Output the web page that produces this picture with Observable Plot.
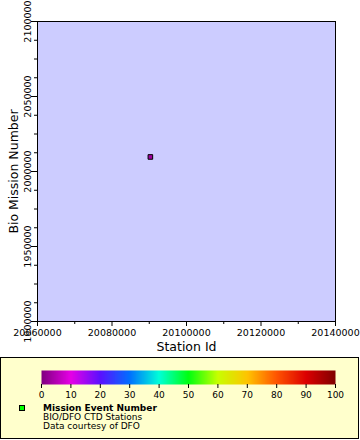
<!DOCTYPE html>
<html>
<head>
<meta charset="utf-8">
<script src="https://cdn.jsdelivr.net/npm/d3@7"></script>
<script src="https://cdn.jsdelivr.net/npm/@observablehq/plot@0.6"></script>
<style>
  html, body { margin: 0; padding: 0; background: #fff; }
  #wrap { position: relative; width: 360px; height: 440px; overflow: hidden; font-family: "DejaVu Sans", sans-serif; }
  #main { position: absolute; left: 0; top: 0; }
  #legendBox { position: absolute; left: 0; top: 357px; width: 357px; height: 80px; border: 1px solid #000; background: #ffffcc; }
  #cbar { position: absolute; left: 0; top: 357px; }
  .ltxt { position: absolute; left: 43px; font-size: 9px; line-height: 9px; white-space: nowrap; color: #000; }
  #marker { position: absolute; left: 19px; top: 405px; width: 4px; height: 4px; background: #00ff00; border: 1px solid #000; }
</style>
</head>
<body>
<div id="wrap">
  <div id="main"></div>
  <div id="legendBox"></div>
  <div id="cbar"></div>
  <div id="marker"></div>
  <div class="ltxt" style="top:404px;font-weight:bold">Mission Event Number</div>
  <div class="ltxt" style="top:413px">BIO/DFO CTD Stations</div>
  <div class="ltxt" style="top:422px">Data courtesy of DFO</div>
</div>
<script>
// ---- data ----
const stationIds = [20090300];
const missionNumbers = [2009700];
const eventNumbers = [3];

const xDomain = [20060000, 20140000];
const yDomain = [1900000, 2100000];
const xMajorTicks = [20060000, 20080000, 20100000, 20120000, 20140000];
const xMinorTicks = [20070000, 20090000, 20110000, 20130000];
const yMajorTicks = [1900000, 1950000, 2000000, 2050000, 2100000];
const yMinorTicks = [1912500, 1925000, 1937500, 1962500, 1975000, 1987500,
                     2012500, 2025000, 2037500, 2062500, 2075000, 2087500];

const colorStops = [0, 10, 20, 30, 40, 50, 60, 70, 80, 90, 100];
const colorRange = ["#800080", "#e600e6", "#5a10ff", "#0070ff", "#00ffd8", "#00ff10",
                    "#c8ff00", "#ffc400", "#ff5400", "#dc0000", "#800000"];
const colorTicks = [0, 10, 20, 30, 40, 50, 60, 70, 80, 90, 100];

const points = stationIds.map((s, i) => ({station: s, mission: missionNumbers[i], event: eventNumbers[i]}));

const colorScale = {type: "linear", domain: colorStops, range: colorRange, interpolate: "rgb"};

const main = Plot.plot({
  width: 360,
  height: 357,
  marginLeft: 37,
  marginRight: 25,
  marginTop: 21,
  marginBottom: 36,
  style: {fontFamily: "DejaVu Sans", fontSize: "9.5px", background: "transparent", overflow: "visible", color: "#000"},
  x: {domain: xDomain},
  y: {domain: yDomain},
  color: colorScale,
  marks: [
    Plot.frame({fill: "#ccccff", stroke: "#000", strokeWidth: 1}),
    Plot.axisX({ticks: xMajorTicks, tickSize: 5, tickPadding: 3, tickFormat: d => String(d), label: null, stroke: "#000"}),
    Plot.axisX({ticks: xMinorTicks, tickSize: 3, text: null, label: null, stroke: "#000"}),
    Plot.axisY({ticks: yMajorTicks, tickSize: 6, text: null, label: null, stroke: "#000"}),
    Plot.axisY({ticks: yMinorTicks, tickSize: 3, text: null, label: null, stroke: "#000"}),
    Plot.text(yMajorTicks, {y: d => d, frameAnchor: "left", dx: -9.5, rotate: -90, text: d => String(d),
      textAnchor: "middle", lineAnchor: "middle", fill: "#000"}),
    Plot.text(["Station Id"], {frameAnchor: "bottom", dy: 25, text: d => d, fontSize: 12.5,
      textAnchor: "middle", lineAnchor: "middle", fill: "#000"}),
    Plot.text(["Bio Mission Number"], {frameAnchor: "left", dx: -24, rotate: -90, text: d => d, fontSize: 12.5,
      textAnchor: "middle", lineAnchor: "middle", fill: "#000"}),
    Plot.dot(points, {x: "station", y: "mission", fill: "event", symbol: "square", r: 2.6,
      stroke: "#000", strokeWidth: 1})
  ]
});
document.getElementById("main").appendChild(main);

const cbar = Plot.plot({
  width: 360,
  height: 43,
  marginLeft: 41,
  marginRight: 25,
  marginTop: 13,
  marginBottom: 16,
  style: {fontFamily: "DejaVu Sans", fontSize: "9px", background: "transparent", overflow: "visible", color: "#000"},
  x: {domain: [0, 100]},
  y: {domain: [0, 1], axis: null},
  color: colorScale,
  marks: [
    Plot.raster({fill: (x, y) => x, x1: 0, x2: 100, y1: 0, y2: 1, width: 300, height: 1, imageRendering: "auto"}),
    Plot.axisX({ticks: colorTicks, tickSize: 4, tickPadding: 3, label: null, stroke: "#000"})
  ]
});
document.getElementById("cbar").appendChild(cbar);
</script>
</body>
</html>
